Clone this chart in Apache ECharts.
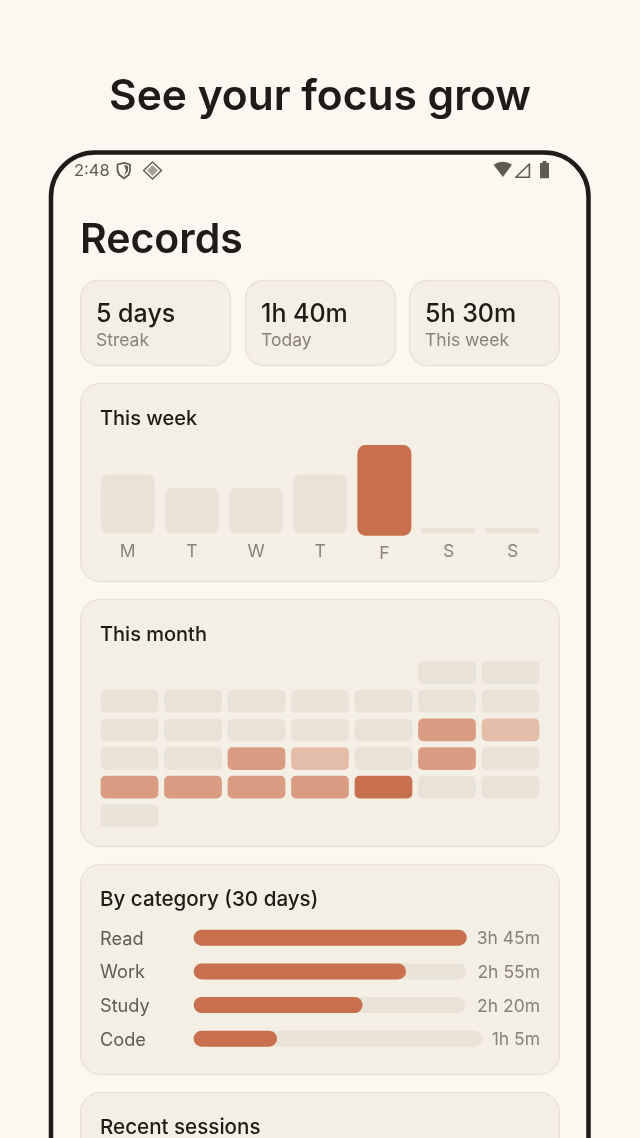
<!DOCTYPE html>
<html>
<head>
<meta charset="utf-8">
<title>Records</title>
<script src="https://cdn.jsdelivr.net/npm/echarts@6/dist/echarts.min.js"></script>
<style>
    html, body { margin: 0; padding: 0; background: #fbf8f1; }
    #main { width: 640px; height: 1138px; }
</style>
</head>
<body>
<div id="main"></div>
<script>
// this week, minutes per day
let weekDays = ["M", "T", "W", "T", "F", "S", "S"];
let weekMinutes = [65, 50, 50, 65, 100, 0, 0];
let todayIndex = 4;

// this month, intensity level per calendar cell (null = no day)
let monthColumns = ["Mon", "Tue", "Wed", "Thu", "Fri", "Sat", "Sun"];
let monthRows = ["w1", "w2", "w3", "w4", "w5", "w6"];
let monthLevels = [
    [null, null, null, null, null, 0, 0],
    [0, 0, 0, 0, 0, 0, 0],
    [0, 0, 0, 0, 0, 2, 1],
    [0, 0, 2, 1, 0, 2, 0],
    [2, 2, 2, 2, 3, 0, 0],
    [0, null, null, null, null, null, null]
];

// by category, last 30 days
let categoryNames = ["Read", "Work", "Study", "Code"];
let categoryMinutes = [225, 175, 140, 65];
let categoryLabels = ["3h 45m", "2h 55m", "2h 20m", "1h 5m"];

// summary tiles
let statValues = ["5 days", "1h 40m", "5h 30m"];
let statNames = ["Streak", "Today", "This week"];

// colours
let pageColor = "#fbf8f1";
let cardColor = "#f3efe5";
let cardBorder = "#e8e1d5";
let trackColor = "#e9e2d6";
let accent = "#c8704e";
let inkColor = "#1f1b16";
let mutedColor = "#87827a";
let statusColor = "#5f5b54";
let levelColors = ["#e9e2d6", "#e4bdaa", "#d99c82", "#c8704e"];
let fontName = "Inter";

// layout of the category rows: the track width changes with the label width
let categoryTrackWidth = [273, 273, 271.3, 288.3];

function card(x, y, w, h, r) {
    return {
        type: "rect", z: 0,
        shape: { x: x + 0.5, y: y + 0.5, width: w - 1, height: h - 1, r: r },
        style: { fill: cardColor, stroke: cardBorder, lineWidth: 1.3 }
    };
}

function text(str, x, y, size, weight, color, align) {
    return {
        type: "text", z: 1,
        style: {
            text: str, x: x, y: y,
            fontFamily: fontName, fontSize: size, fontWeight: weight,
            fill: color, textAlign: align || "left", textVerticalAlign: "middle"
        }
    };
}

function poly(points, fill, stroke, lineWidth) {
    return {
        type: "polygon", z: 1,
        shape: { points: points },
        style: { fill: fill, stroke: stroke, lineWidth: lineWidth || 0, lineJoin: "round" }
    };
}

let graphics = [
    text("See your focus grow", 320, 97, 42.5, 600, inkColor, "center"),
    {
        type: "rect", z: 0,
        shape: { x: 51, y: 152.5, width: 537.5, height: 1100, r: 44 },
        style: { fill: pageColor, stroke: inkColor, lineWidth: 4.5 }
    },
    text("2:48", 74, 171, 16.5, 400, statusColor),
    // shield
    poly([[117.5, 164.5], [124, 162.8], [130, 164.5], [130, 171], [128.5, 175], [124, 178.3], [119.500, 175], [117.5, 171]], "none", statusColor, 1.8),
    poly([[124, 165], [128, 166], [128, 171], [124, 176], [126, 170]], statusColor, "none"),
    // diamond
    poly([[152.5, 162], [161.5, 170.5], [152.5, 179], [143.5, 170.5]], "none", statusColor, 1.4),
    poly([[152.5, 165], [158, 170.5], [152.5, 176], [147, 170.5]], "#a5a19a", "none"),
    // wifi, signal, battery
    {
        type: "sector", z: 1,
        shape: { cx: 502.8, cy: 177, r: 15.3, startAngle: -Math.PI * 127 / 180, endAngle: -Math.PI * 53 / 180, clockwise: true },
        style: { fill: statusColor }
    },
    poly([[515.8, 177.2], [529.4, 164], [529.4, 177.2]], "none", statusColor, 1.6),
    poly([[542.5, 161], [546.5, 161], [546.5, 163], [549, 163], [549, 178.3], [540, 178.3], [540, 163], [542.5, 163]], statusColor, "none"),
    text("Records", 80, 241, 41, 600, inkColor)
];

let statX = [80, 245, 409];
statValues.forEach((v, i) => {
    graphics.push(card(statX[i], 280, 151, 86, 18));
    graphics.push(text(v, statX[i] + 16, 314, 25, 500, inkColor));
    graphics.push(text(statNames[i], statX[i] + 16, 341, 17.5, 400, mutedColor));
});

graphics.push(card(80, 383, 480, 199, 20));
graphics.push(text("This week", 100, 419, 20, 500, inkColor));
graphics.push(card(80, 599, 480, 248, 20));
graphics.push(text("This month", 100, 635, 20, 500, inkColor));
graphics.push(card(80, 864, 480, 211, 20));
graphics.push(text("By category (30 days)", 100, 900, 20.6, 500, inkColor));
graphics.push(card(80, 1092, 480, 120, 20));
graphics.push(text("Recent sessions", 100, 1128, 20.6, 500, inkColor));

let hiddenAxis = { axisLine: { show: false }, axisTick: { show: false }, splitLine: { show: false } };
let grids = [];
let xAxes = [];
let yAxes = [];
let seriesList = [];

// week bars: the current day sits in its own grid as it is drawn slightly lower
function addWeekGrid(bottomY, labelFor, values, color) {
    let idx = grids.length;
    grids.push({ left: 95.6, top: bottomY - 90.6, width: 449.2, height: 90.6 });
    xAxes.push(Object.assign({
        type: "category", gridIndex: idx, data: weekDays,
        axisLabel: {
            margin: 9.5, fontFamily: fontName, fontSize: 17.5, color: mutedColor,
            interval: 0, formatter: labelFor
        }
    }, hiddenAxis));
    yAxes.push(Object.assign({
        type: "value", gridIndex: idx, min: 0, max: 100, axisLabel: { show: false }
    }, hiddenAxis));
    seriesList.push({
        type: "bar", xAxisIndex: idx, yAxisIndex: idx, data: values,
        barWidth: 54, barMinHeight: 5.3,
        itemStyle: { color: color, borderRadius: 8 }
    });
}
addWeekGrid(533.3,
    (v, i) => i === todayIndex ? "" : v,
    weekMinutes.map((v, i) => i === todayIndex ? null : v),
    trackColor);
addWeekGrid(535.7,
    (v, i) => i === todayIndex ? v : "",
    weekMinutes.map((v, i) => i === todayIndex ? v : null),
    accent);

// month calendar
let monthIdx = grids.length;
grids.push({ left: 97.75, top: 658.2, width: 444.5, height: 172 });
xAxes.push(Object.assign({
    type: "category", gridIndex: monthIdx, data: monthColumns, axisLabel: { show: false }
}, hiddenAxis));
yAxes.push(Object.assign({
    type: "category", gridIndex: monthIdx, data: monthRows, inverse: true, axisLabel: { show: false }
}, hiddenAxis));
let monthData = [];
monthLevels.forEach((row, r) => row.forEach((level, c) => {
    if (level !== null) monthData.push([c, r, level]);
}));
seriesList.push({
    type: "custom", xAxisIndex: monthIdx, yAxisIndex: monthIdx, data: monthData,
    encode: { x: 0, y: 1 },
    renderItem: function (params, api) {
        let center = api.coord([api.value(0), api.value(1)]);
        let band = api.size([1, 1]);
        let w = band[0] - 5.8;
        let h = band[1] - 5.9;
        return {
            type: "rect",
            shape: { x: center[0] - w / 2, y: center[1] - h / 2, width: w, height: h, r: 5 },
            style: { fill: levelColors[api.value(2)] }
        };
    }
});

// category rows, one grid each
let categoryTop = [929.7, 963.4, 997, 1030.7];
categoryNames.forEach((name, i) => {
    let idx = grids.length;
    let w = categoryTrackWidth[i];
    grids.push({ left: 193.7, top: categoryTop[i], width: w, height: 16 });
    xAxes.push(Object.assign({
        type: "value", gridIndex: idx, min: 0, max: categoryMinutes[0], axisLabel: { show: false }
    }, hiddenAxis));
    yAxes.push(Object.assign({
        type: "category", gridIndex: idx, data: [name],
        axisLabel: {
            align: "left", margin: 93.7, verticalAlign: "top", lineHeight: 3,
            fontFamily: fontName, fontSize: 18.2, color: "#5f5b54"
        }
    }, hiddenAxis));
    yAxes.push(Object.assign({
        type: "category", gridIndex: idx, position: "right", data: [categoryLabels[i]],
        axisLabel: {
            align: "right", margin: 540 - (193.7 + w), verticalAlign: "top", lineHeight: 3,
            fontFamily: fontName, fontSize: 17.5, color: mutedColor
        }
    }, hiddenAxis));
    seriesList.push({
        type: "bar", xAxisIndex: idx, yAxisIndex: yAxes.length - 2, data: [categoryMinutes[i]],
        barWidth: 16, showBackground: true,
        backgroundStyle: { color: trackColor, borderRadius: 8 },
        itemStyle: { color: accent, borderRadius: 8 }
    });
});

let chart = echarts.init(document.getElementById("main"), null, { renderer: "canvas" });
chart.setOption({
    animation: false,
    backgroundColor: pageColor,
    tooltip: { show: false },
    graphic: graphics,
    grid: grids,
    xAxis: xAxes,
    yAxis: yAxes,
    series: seriesList
});
</script>
</body>
</html>
